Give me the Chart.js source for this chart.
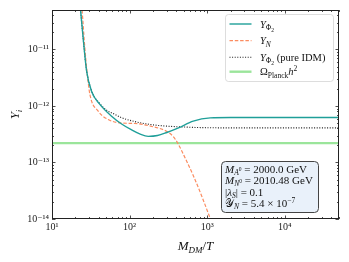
<!DOCTYPE html>
<html>
<head>
<meta charset="utf-8">
<script src="https://cdn.jsdelivr.net/npm/chart.js@4.4.1/dist/chart.umd.min.js"></script>
<style>
  html, body { margin: 0; padding: 0; background: #fff; }
  #wrap { width: 349px; height: 262px; position: relative; }
</style>
</head>
<body>
<div id="wrap"><canvas id="yieldChart"></canvas></div>
<script>
// values (x = M_DM/T, y = Y_i)
const xPhi2 = [21.4, 23.3, 25.2, 27.9, 32.4, 41.4, 58.6, 79, 105, 135, 174, 229, 302, 427, 661, 1096, 2000, 10000, 50000];
const yPhi2 = [1.8e-10, 5.1e-11, 1.6e-11, 4.2e-12, 1.8e-12, 1.07e-12, 6.6e-13, 4.8e-13, 3.8e-13, 3.2e-13, 2.9e-13, 3.0e-13, 3.4e-13, 4.1e-13, 5.4e-13, 6.15e-13, 6.25e-13, 6.25e-13, 6.25e-13];

const xN = [22.4, 24.4, 26.2, 28.2, 30.8, 39.4, 53, 79, 117, 186, 302, 363, 417, 525, 661, 832, 1047, 1259];
const yN = [1.8e-10, 5.1e-11, 1.3e-11, 4.2e-12, 1.6e-12, 8.1e-13, 5.75e-13, 5.0e-13, 4.9e-13, 4.4e-13, 3.55e-13, 2.9e-13, 2.2e-13, 1.17e-13, 5.9e-14, 2.75e-14, 1.2e-14, 6e-15];

const xIdm = [21.4, 23.3, 25.2, 27.9, 32.4, 41.4, 50, 64.7, 79, 117, 186, 302, 500, 813, 2000, 50000];
const yIdm = [1.8e-10, 5.1e-11, 1.6e-11, 4.3e-12, 1.85e-12, 1.1e-12, 8.5e-13, 7.1e-13, 6.2e-13, 5.3e-13, 4.7e-13, 4.4e-13, 4.25e-13, 4.15e-13, 4.1e-13, 4.1e-13];

const xPlanck = [10, 50000];
const yPlanck = [2.2e-13, 2.2e-13];

const xTicks = [10, 100, 1000, 10000];
const xTickLabels = ["10¹", "10²", "10³", "10⁴"];
const yTicks = [1e-14, 1e-13, 1e-12, 1e-11];
const yTickLabels = ["10⁻¹⁴", "10⁻¹³", "10⁻¹²", "10⁻¹¹"];

const SERIF = "'Liberation Serif', 'DejaVu Serif', serif";

// rich text parts: [text, size, baseline shift, italic]
const legendParts = [
    [["Y", 10.5, 0, true], ["Φ", 7.5, 2.5, false], ["2", 5.5, 4, false]],
    [["Y", 10.5, 0, true], ["N", 7.5, 2.5, true]],
    [["Y", 10.5, 0, true], ["Φ", 7.5, 2.5, false], ["2", 5.5, 4, false], [" (pure IDM)", 10.5, 0, false]],
    [["Ω", 10.5, 0, false], ["Planck", 7.5, 2.5, false], ["h", 10.5, 0, true], ["2", 7.5, -4, false]]
];
const infoParts = [
    [["M", 11, 0, true], ["A", 7.5, 2.3, true], ["0", 5.5, -1.5, false], [" = 2000.0 GeV", 11, 0, false]],
    [["M", 11, 0, true], ["N", 7.5, 2.3, true], ["0", 5.5, -1.5, false], [" = 2010.48 GeV", 11, 0, false]],
    [["|", 11, 0, false], ["λ", 11, 0, true], ["S", 7.5, 2.3, true], ["| = 0.1", 11, 0, false]],
    [["𝒴", 11, 0, false], ["N", 7.5, 2.3, true], [" = 5.4 × 10", 11, 0, false], ["−7", 7.5, -4, false]]
];
const xTitleParts = [["M", 13, 0, true], ["DM", 9, 3, true], ["/", 13, 0, false], ["T", 13, 0, true]];
const yTitleParts = [["Y", 13, 0, true], ["i", 9, 3, true]];

function toPoints(xs, ys) {
    return xs.map((x, i) => ({ x: x, y: ys[i] }));
}

function fontOf(p) {
    return (p[3] ? "italic " : "") + p[1] + "px " + SERIF;
}

function drawRich(ctx, parts, x, y, align) {
    let w = 0;
    parts.forEach(p => { ctx.font = fontOf(p); w += ctx.measureText(p[0]).width; });
    let cx = align === "center" ? x - w / 2 : (align === "right" ? x - w : x);
    ctx.textAlign = "left";
    ctx.textBaseline = "alphabetic";
    parts.forEach(p => {
        ctx.font = fontOf(p);
        ctx.fillText(p[0], cx, y + p[2]);
        cx += ctx.measureText(p[0]).width;
    });
}

function roundRect(ctx, x, y, w, h, r) {
    ctx.beginPath();
    ctx.moveTo(x + r, y);
    ctx.arcTo(x + w, y, x + w, y + h, r);
    ctx.arcTo(x + w, y + h, x, y + h, r);
    ctx.arcTo(x, y + h, x, y, r);
    ctx.arcTo(x, y, x + w, y, r);
    ctx.closePath();
}

// frame, inward ticks, axis titles, legend and info box
const decorations = {
    id: "decorations",
    afterDatasetsDraw(chart) {
        const { ctx, chartArea: a, scales } = chart;
        ctx.save();
        ctx.strokeStyle = "#222";
        ctx.lineWidth = 0.8;

        for (let d = 10; d <= 10000; d *= 10) {
            for (let m = 1; m <= 9; m++) {
                const v = m * d;
                if (v > scales.x.max) break;
                const px = Math.round(scales.x.getPixelForValue(v)) + 0.5;
                const len = m === 1 ? 3.5 : 2;
                ctx.beginPath();
                ctx.moveTo(px, a.bottom); ctx.lineTo(px, a.bottom - len);
                ctx.moveTo(px, a.top); ctx.lineTo(px, a.top + len);
                ctx.stroke();
            }
        }
        for (let e = -14; e <= -11; e++) {
            for (let m = 1; m <= 9; m++) {
                const v = m * Math.pow(10, e);
                if (v > scales.y.max) break;
                const py = Math.round(scales.y.getPixelForValue(v)) + 0.5;
                const len = m === 1 ? 3.5 : 2;
                ctx.beginPath();
                ctx.moveTo(a.left, py); ctx.lineTo(a.left + len, py);
                ctx.moveTo(a.right, py); ctx.lineTo(a.right - len, py);
                ctx.stroke();
            }
        }
        ctx.lineWidth = 1;
        ctx.strokeRect(a.left + 0.5, a.top + 0.5, a.right - a.left - 1, a.bottom - a.top - 1);

        ctx.fillStyle = "#111";
        drawRich(ctx, xTitleParts, (a.left + a.right) / 2, 250, "center");
        ctx.save();
        ctx.translate(19, (a.top + a.bottom) / 2);
        ctx.rotate(-Math.PI / 2);
        drawRich(ctx, yTitleParts, 0, 0, "center");
        ctx.restore();

        // legend
        roundRect(ctx, 225.5, 14.5, 108, 67, 3);
        ctx.fillStyle = "rgba(255,255,255,0.85)";
        ctx.fill();
        ctx.strokeStyle = "#d4d4d4";
        ctx.lineWidth = 0.8;
        ctx.stroke();
        const rows = [24, 40.7, 57.3, 71.7];
        chart.data.datasets.forEach((ds, i) => {
            ctx.save();
            ctx.strokeStyle = ds.borderColor;
            ctx.lineWidth = ds.borderWidth;
            ctx.setLineDash(ds.borderDash || []);
            ctx.beginPath();
            ctx.moveTo(229.5, rows[i]);
            ctx.lineTo(251.5, rows[i]);
            ctx.stroke();
            ctx.restore();
            ctx.fillStyle = "#111";
            drawRich(ctx, legendParts[i], 260, rows[i] + 3.5, "left");
        });

        // info box
        roundRect(ctx, 221.5, 161.5, 97, 51, 4);
        ctx.fillStyle = "#e9f1fa";
        ctx.fill();
        ctx.strokeStyle = "#444";
        ctx.lineWidth = 1;
        ctx.stroke();
        ctx.fillStyle = "#111";
        [172.5, 184, 195.5, 207].forEach((y, i) => drawRich(ctx, infoParts[i], 225, y, "left"));

        ctx.restore();
    }
};

new Chart(document.getElementById("yieldChart"), {
    type: "line",
    data: {
        datasets: [
            {
                label: "Y_Phi2",
                data: toPoints(xPhi2, yPhi2),
                borderColor: "#1f9f99",
                borderWidth: 1.4,
                pointRadius: 0,
                cubicInterpolationMode: "monotone"
            },
            {
                label: "Y_N",
                data: toPoints(xN, yN),
                borderColor: "#fb8c60",
                borderWidth: 1.2,
                borderDash: [3.5, 1.8],
                pointRadius: 0,
                cubicInterpolationMode: "monotone"
            },
            {
                label: "Y_Phi2 (pure IDM)",
                data: toPoints(xIdm, yIdm),
                borderColor: "#1a1a1a",
                borderWidth: 1.1,
                borderDash: [1, 1.6],
                pointRadius: 0,
                cubicInterpolationMode: "monotone"
            },
            {
                label: "Omega_Planck h^2",
                data: toPoints(xPlanck, yPlanck),
                borderColor: "#9be59b",
                borderWidth: 2.4,
                pointRadius: 0
            }
        ]
    },
    options: {
        responsive: true,
        maintainAspectRatio: false,
        animation: false,
        layout: { padding: { top: 10, right: 10, left: 0, bottom: 0 } },
        plugins: {
            legend: { display: false },
            tooltip: { enabled: false }
        },
        scales: {
            x: {
                type: "logarithmic",
                min: 10,
                max: 50000,
                afterBuildTicks: s => { s.ticks = xTicks.map(v => ({ value: v })); },
                afterFit: s => { s.height = 43; },
                grid: { display: false, drawTicks: false },
                border: { display: false },
                ticks: {
                    autoSkip: false,
                    maxRotation: 0,
                    padding: 2,
                    color: "#222",
                    font: { family: SERIF, size: 10 },
                    callback: (v, i) => xTickLabels[i]
                }
            },
            y: {
                type: "logarithmic",
                min: 1e-14,
                max: 5e-11,
                afterBuildTicks: s => { s.ticks = yTicks.map(v => ({ value: v })); },
                afterFit: s => { s.width = 52; },
                grid: { display: false, drawTicks: false },
                border: { display: false },
                ticks: {
                    autoSkip: false,
                    padding: 3,
                    color: "#222",
                    font: { family: SERIF, size: 10 },
                    callback: (v, i) => yTickLabels[i]
                }
            }
        }
    },
    plugins: [decorations]
});
</script>
</body>
</html>
